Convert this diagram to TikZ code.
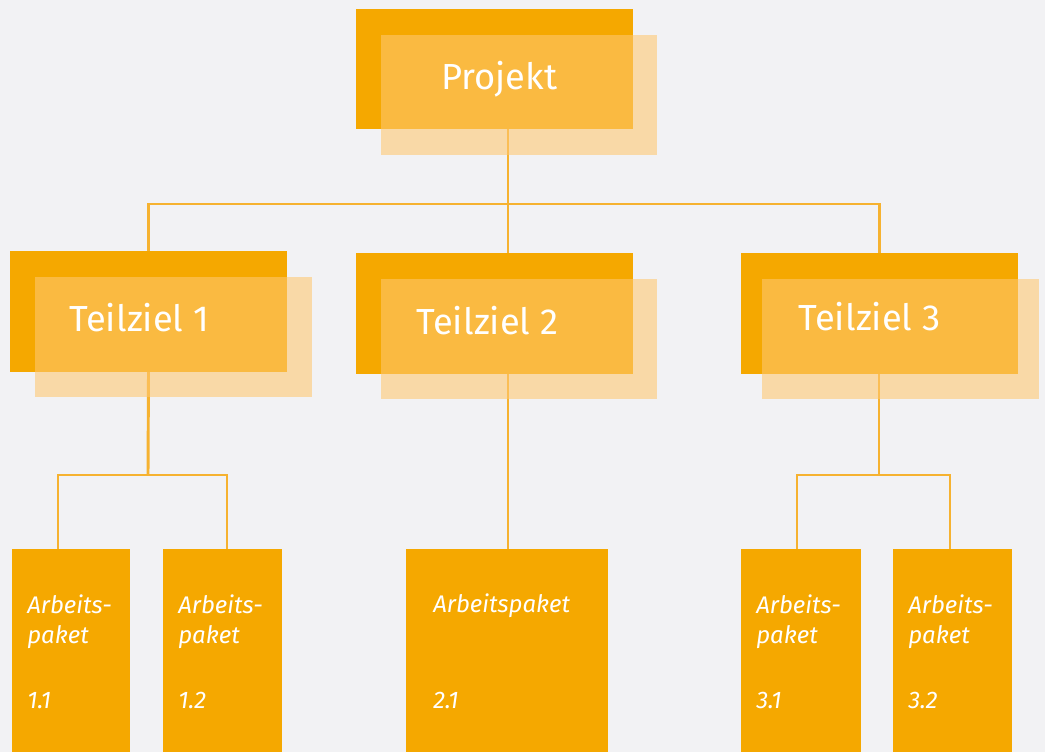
\documentclass[tikz,border=0pt]{standalone}
\usepackage{fontspec}
\setmainfont{Fira Sans}
\usetikzlibrary{backgrounds}

\definecolor{paper}{RGB}{242,242,244}
\definecolor{deep}{RGB}{245,168,0}
\definecolor{soft}{RGB}{255,200,112}
\definecolor{wire}{RGB}{246,178,48}

\tikzset{
  size/.style 2 args={minimum width=#1*0.75pt, minimum height=#2*0.75pt},
  backbox/.style={fill=deep, draw=none, inner sep=0pt, outer sep=0pt, anchor=north west},
  frontbox/.style={fill=soft, fill opacity=0.58, draw=none, inner sep=0pt, outer sep=0pt, anchor=north west},
  workbox/.style={fill=deep, draw=none, inner sep=0pt, outer sep=0pt, anchor=north west},
  headtext/.style={text=white, font=\fontsize{27.2}{27.2}\selectfont, anchor=base west, inner sep=0pt},
  worktext/.style={text=white, font=\fontsize{18}{18}\selectfont\itshape, anchor=base west, inner sep=0pt},
  link/.style={draw=wire, line width=2.2pt}
}

\begin{document}
\begin{tikzpicture}[x=0.75pt, y=-0.75pt]
\useasboundingbox (0,0) rectangle (1045,752);

% project level
\node[backbox, size={277}{120}] (pb) at (356,9) {};
\node[frontbox, size={276}{120}] (pf) at (381,35) {};
\node[headtext] (ptext) at (441,90) {Projekt};

% sub-goal level
\node[backbox, size={277}{121}] (t1b) at (10,251) {};
\node[frontbox, size={277}{120}] (t1f) at (35,277) {};
\node[headtext] (t1text) at (69,331) {Teilziel 1};

\node[backbox, size={277}{121}] (t2b) at (356,253) {};
\node[frontbox, size={276}{120}] (t2f) at (381,279) {};
\node[headtext] (t2text) at (416,334) {Teilziel 2};

\node[backbox, size={277}{121}] (t3b) at (741,253) {};
\node[frontbox, size={277}{120}] (t3f) at (762,279) {};
\node[headtext] (t3text) at (798,330) {Teilziel 3};

% work packages
\node[workbox, size={118}{203}] (ap11) at (12,549) {};
\node[workbox, size={119}{203}] (ap12) at (163,549) {};
\node[workbox, size={202}{203}] (ap21) at (406,549) {};
\node[workbox, size={120}{203}] (ap31) at (741,549) {};
\node[workbox, size={119}{203}] (ap32) at (893,549) {};

\foreach \b/\x/\n in {ap11/27/1.1, ap12/178/1.2, ap31/756/3.1, ap32/908/3.2}{
  \node[worktext] (\b-l1) at (\x,613) {Arbeits-};
  \node[worktext] (\b-l2) at (\x,643) {paket};
  \node[worktext] (\b-l3) at (\x,708) {\n};
}
\node[worktext] (ap21-l1) at (433,612) {Arbeitspaket};
\node[worktext] (ap21-l3) at (433,708) {2.1};

% junction points of the connectors
\coordinate (top) at (508,129);
\coordinate (bus) at (508,204);
\coordinate (k1) at (148,475);
\coordinate (k3) at (879,475);
\path (ap11.north west) ++(46,0) coordinate (e11);
\path (ap12.north west) ++(64,0) coordinate (e12);
\path (ap21.north west) ++(102,0) coordinate (e21);
\path (ap31.north west) ++(56,0) coordinate (e31);
\path (ap32.north west) ++(57,0) coordinate (e32);

\begin{pgfonlayer}{background}
  \fill[paper] (0,0) rectangle (1045,752);
  \draw[link] (top) -- (t2b.north -| top);
  \draw[link] (t1b.north) |- (bus) -| (t3b.north);
  \draw[link] (t1b.south) -- (k1);
  \draw[link] (e11) |- (k1) -| (e12);
  \draw[link] (t2b.south -| e21) -- (e21);
  \draw[link] (t3b.south -| k3) -- (k3);
  \draw[link] (e31) |- (k3) -| (e32);
\end{pgfonlayer}
\end{tikzpicture}
\end{document}
